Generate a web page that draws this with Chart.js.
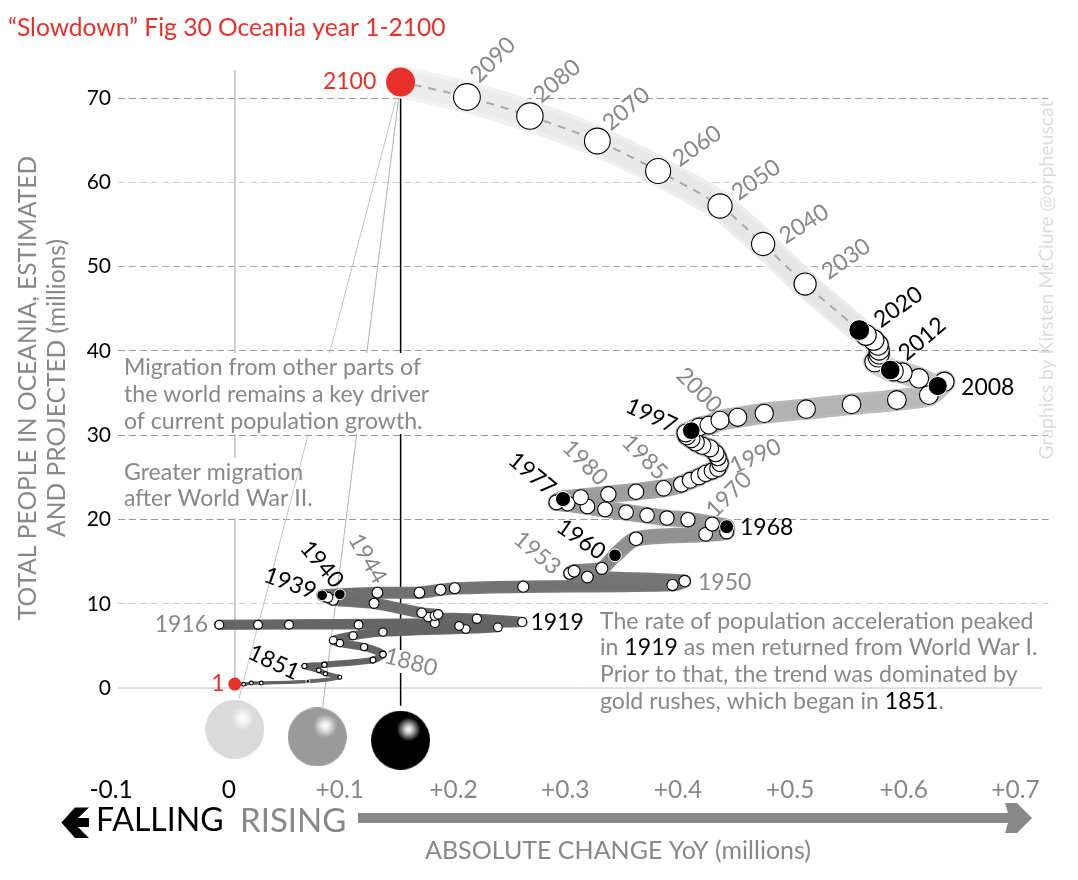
<!DOCTYPE html>
<html>
<head>
<meta charset="utf-8">
<style>
  html, body { margin: 0; padding: 0; background: #fff; }
  canvas { display: block; }
</style>
<script src="https://cdn.jsdelivr.net/npm/chart.js@4/dist/chart.umd.min.js"></script>
</head>
<body>
<canvas id="chart" width="1078" height="880"></canvas>
<script>
// values
var years = [1, 1700, 1750, 1800, 1851, 1855, 1860, 1865, 1870, 1872, 1875, 1880, 1885, 1890, 1895, 1900, 1905,
  1910, 1911, 1912, 1913, 1914, 1915, 1916, 1918, 1919, 1920, 1921, 1923, 1925, 1930, 1935, 1937, 1938, 1939, 1940,
  1942, 1944, 1945, 1946, 1948, 1949, 1950, 1951, 1952, 1953, 1957, 1960, 1964, 1966, 1967, 1968, 1969, 1970,
  1971, 1972, 1973, 1974, 1975, 1976, 1976.5, 1977, 1978, 1979, 1980, 1981, 1982, 1983, 1984, 1985, 1986, 1987,
  1988, 1989, 1990, 1991, 1992, 1993, 1994, 1995, 1996, 1997, 1998, 1999, 2000, 2001, 2002, 2003, 2004, 2005,
  2006, 2007, 2008, 2009, 2010, 2011, 2012, 2013, 2014, 2015, 2016, 2017, 2018, 2019, 2020, 2030, 2040, 2050,
  2060, 2070, 2080, 2090, 2100];

var absoluteChange = [0.000, 0.008, 0.015, 0.024, 0.066, 0.095, 0.082, 0.076, 0.063, 0.081, 0.125, 0.134, 0.117, 0.095, 0.089, 0.107, 0.134,
  0.209, 0.238, 0.203, 0.112, 0.049, 0.021, -0.014, 0.181, 0.260, 0.219, 0.175, 0.181, 0.184, 0.169, 0.126, 0.089, 0.084, 0.079, 0.095,
  0.129, 0.167, 0.186, 0.199, 0.261, 0.396, 0.407, 0.319, 0.303, 0.307, 0.332, 0.344, 0.363, 0.426, 0.445, 0.445, 0.432, 0.410,
  0.391, 0.373, 0.354, 0.335, 0.319, 0.301, 0.291, 0.297, 0.313, 0.338, 0.363, 0.388, 0.404, 0.412, 0.420, 0.426, 0.432, 0.437,
  0.439, 0.437, 0.435, 0.430, 0.423, 0.417, 0.413, 0.409, 0.408, 0.413, 0.420, 0.429, 0.439, 0.455, 0.479, 0.517, 0.558, 0.599,
  0.628, 0.642, 0.636, 0.619, 0.604, 0.596, 0.593, 0.579, 0.582, 0.583, 0.583, 0.582, 0.578, 0.571, 0.565, 0.516, 0.478, 0.439,
  0.383, 0.328, 0.267, 0.210, 0.150];

var people = [0.47, 0.44, 0.59, 0.59, 0.79, 1.27, 1.70, 2.10, 2.61, 2.76, 3.32, 4.00, 4.86, 5.34, 5.66, 6.21, 6.64,
  7.00, 7.20, 7.36, 7.51, 7.51, 7.51, 7.51, 7.71, 7.83, 8.22, 8.42, 8.58, 8.74, 8.93, 10.05, 10.44, 10.76, 11.00, 11.12,
  11.31, 11.31, 11.66, 11.83, 12.02, 12.22, 12.69, 13.17, 13.61, 13.88, 14.20, 15.74, 17.71, 18.24, 18.51, 19.14, 19.46, 19.97,
  20.17, 20.49, 20.85, 21.20, 21.55, 21.90, 22.03, 22.42, 22.63, 22.98, 23.29, 23.69, 24.17, 24.64, 25.07, 25.47, 25.75, 26.07,
  26.66, 27.37, 27.85, 28.44, 28.75, 29.15, 29.54, 29.90, 30.25, 30.53, 30.97, 31.20, 31.76, 32.12, 32.59, 33.10, 33.66, 34.17,
  34.76, 36.34, 35.83, 36.74, 37.41, 37.60, 37.73, 38.71, 39.27, 39.63, 40.10, 40.70, 41.29, 41.88, 42.47, 47.93, 52.68, 57.19,
  61.34, 64.90, 67.86, 70.12, 71.90];

var blackYears = [1851, 1939, 1940, 1960, 1968, 1977, 1997, 2008, 2012, 2020];
var redYears = [1, 2100];

var xTickLabels = ['-0.1', '0', '+0.1', '+0.2', '+0.3', '+0.4', '+0.5', '+0.6', '+0.7'];
// the picture sets its labels slightly wider apart than its scale
var xTickSpots = [-0.112, -0.0054, 0.0949, 0.1978, 0.2990, 0.4010, 0.5025, 0.6052, 0.7064];
var yTickValues = [0, 10, 20, 30, 40, 50, 60, 70];
var gridColors = {0: 'rgba(0,0,0,0)', 10: '#cfcfcf', 20: '#999', 30: '#999', 40: '#999', 50: '#aaa', 60: '#d0d0d0', 70: '#999'};

var RED = '#e8302a';
var GREY = '#888888';
var BLACK = '#000000';
var FONT = 'Lato, "Open Sans", sans-serif';
var BODY_SIZE = 23.1;

// tube shade by year: [year, grey level]
var tubeShades = [[1, 85], [1916, 100], [1950, 115], [1968, 150], [2000, 170], [2008, 190], [2020, 228], [2100, 236]];

var labelSpots = [
  {year: 2090, dx: 26, dy: -37, angle: -45, color: GREY},
  {year: 2080, dx: 27, dy: -35, angle: -40, color: GREY},
  {year: 2070, dx: 29, dy: -32, angle: -40, color: GREY},
  {year: 2060, dx: 39, dy: -25, angle: -35, color: GREY},
  {year: 2050, dx: 36, dy: -26, angle: -35, color: GREY},
  {year: 2040, dx: 41, dy: -20, angle: -32, color: GREY},
  {year: 2030, dx: 41, dy: -25, angle: -35, color: GREY},
  {year: 2020, dx: 39, dy: -23, angle: -35, color: BLACK},
  {year: 2012, dx: 32, dy: -31, angle: -40, color: BLACK},
  {year: 2008, dx: 50, dy: 2, angle: 0, color: BLACK},
  {year: 2000, dx: -21, dy: -30, angle: 45, color: GREY},
  {year: 1997, dx: -40, dy: -15, angle: 25, color: BLACK},
  {year: 1990, dx: 40, dy: 3, angle: -25, color: GREY},
  {year: 1985, dx: -61, dy: -16, angle: 45, color: GREY},
  {year: 1980, dx: -51, dy: -29, angle: 45, color: GREY},
  {year: 1977, dx: -31, dy: -25, angle: 40, color: BLACK},
  {year: 1970, dx: 41, dy: -25, angle: -45, color: GREY},
  {year: 1968, dx: 40, dy: 1, angle: 0, color: BLACK},
  {year: 1960, dx: -34, dy: -16, angle: 35, color: BLACK},
  {year: 1953, dx: -37, dy: -18, angle: 40, color: GREY},
  {year: 1950, dx: 40, dy: 2, angle: 0, color: GREY},
  {year: 1944, dx: -52, dy: -34, angle: 60, color: GREY},
  {year: 1940, dx: -18, dy: -30, angle: 50, color: BLACK},
  {year: 1939, dx: -32, dy: -12, angle: 20, color: BLACK},
  {year: 1919, dx: 35, dy: 1, angle: 0, color: BLACK},
  {year: 1916, dx: -38, dy: 0, angle: 0, color: GREY},
  {year: 1851, dx: -34, dy: -19, angle: 25, color: BLACK},
  {year: 1880, dx: 28, dy: 8, angle: 15, color: GREY},
  {year: 1, dx: -17, dy: 0, angle: 0, color: RED},
  {year: 2100, dx: -51, dy: 0, angle: 0, color: RED}
];

function spot(i) { return {x: absoluteChange[i], y: people[i]}; }

function pick(test) {
  var out = [];
  years.forEach(function(yr, i) { if (test(yr)) out.push(spot(i)); });
  return out;
}

function dotRadius(ctx) {
  return Math.max(1.9, 1.6 * Math.sqrt(ctx.raw.y));
}

function tubeShade(yr) {
  for (var i = 1; i < tubeShades.length; i++) {
    if (yr <= tubeShades[i][0]) {
      var a = tubeShades[i - 1], b = tubeShades[i];
      return a[1] + (b[1] - a[1]) * (yr - a[0]) / (b[0] - a[0]);
    }
  }
  return 236;
}

function tubeColor(ctx, lift) {
  var g = Math.min(250, Math.round(tubeShade(years[ctx.p1DataIndex]) + lift));
  return 'rgb(' + g + ',' + g + ',' + g + ')';
}

function tubeWidth(ctx, gain) {
  var y = people[ctx.p1DataIndex];
  return Math.max(3, (3.4 * Math.sqrt(y) + 0.05 * y) * gain);
}

function makeSphere(base) {
  var c = document.createElement('canvas');
  c.width = 59; c.height = 59;
  var g = c.getContext('2d');
  g.beginPath();
  g.arc(29.5, 29.5, 29.5, 0, Math.PI * 2);
  g.fillStyle = base;
  g.fill();
  var grad = g.createRadialGradient(37.5, 18.5, 0, 37.5, 18.5, 12);
  grad.addColorStop(0, 'rgba(255,255,255,1)');
  grad.addColorStop(0.3, 'rgba(255,255,255,0.8)');
  grad.addColorStop(1, 'rgba(255,255,255,0)');
  g.fillStyle = grad;
  g.fill();
  return c;
}

var sphereX = [0.0, 0.0746, 0.15];
var sphereY = [-4.9, -5.8, -6.2];
var sphereColors = ['#dadada', '#9a9a9a', '#000000'];
var leaderEndX = [0.0036, 0.0795, 0.15];
var leaderEndY = [-1.3, -2.25, -2.1];
var leaderColors = ['#c4c4c4', '#b0b0b0', '#000000'];
var lastSpot = spot(years.indexOf(2100));

var tubePoints = years.map(function(yr, i) { return spot(i); });

var datasets = [
  {data: pick(function(y) { return redYears.indexOf(y) >= 0; }), showLine: false, order: 1,
    pointRadius: function(ctx) { return ctx.raw.y > 10 ? 14.5 : 6.5; },
    pointBackgroundColor: RED, pointBorderWidth: 0, clip: false},
  {data: pick(function(y) { return blackYears.indexOf(y) >= 0; }), showLine: false, order: 2,
    pointRadius: dotRadius, pointBackgroundColor: BLACK, pointBorderColor: '#fff', pointBorderWidth: 1, clip: false},
  {data: pick(function(y) { return blackYears.indexOf(y) < 0 && redYears.indexOf(y) < 0; }), showLine: false, order: 3,
    pointRadius: dotRadius, pointBackgroundColor: '#fff', pointBorderColor: '#000', pointBorderWidth: 1.1, clip: false},
  {data: pick(function(y) { return y >= 2020; }), showLine: true, order: 4, pointRadius: 0,
    borderColor: '#aaaaaa', borderWidth: 2, borderDash: [8, 7], tension: 0.3, clip: false},
  {data: tubePoints, showLine: true, order: 5, pointRadius: 0, tension: 0.25, borderCapStyle: 'round', clip: false,
    segment: {
      borderColor: function(ctx) { return tubeColor(ctx, 0); },
      borderWidth: function(ctx) { return tubeWidth(ctx, 0.75); }
    }},
  {data: tubePoints, showLine: true, order: 6, pointRadius: 0, tension: 0.25, borderCapStyle: 'round', clip: false,
    segment: {
      borderColor: function(ctx) { return tubeColor(ctx, 6); },
      borderWidth: function(ctx) { return tubeWidth(ctx, 1); }
    }}
];

// lines from the 2100 point to the three spheres
leaderEndX.forEach(function(x, i) {
  datasets.push({data: [lastSpot, {x: x, y: leaderEndY[i]}], showLine: true, order: 7, pointRadius: 0,
    borderColor: leaderColors[i], borderWidth: i == 2 ? 1.5 : 1, clip: false});
});

datasets.push({data: [{x: 0, y: 73.3}, {x: 0, y: 0}], showLine: true, order: 8, pointRadius: 0,
  borderColor: '#c4c4c4', borderWidth: 1});
datasets.push({data: [{x: -0.1057, y: 0}, {x: 0.73, y: 0}], showLine: true, order: 8, pointRadius: 0,
  borderColor: '#c4c4c4', borderWidth: 1});

datasets.push({data: sphereX.map(function(x, i) { return {x: x, y: sphereY[i]}; }), showLine: false, order: 9,
  pointRadius: 29.5, pointBorderWidth: 0, clip: false,
  pointStyle: sphereColors.map(makeSphere)});

function drawText(ctx, text, x, y, size, color, angle, align) {
  ctx.save();
  ctx.translate(x, y);
  if (angle) ctx.rotate(angle * Math.PI / 180);
  ctx.font = size + 'px ' + FONT;
  ctx.fillStyle = color;
  ctx.textAlign = align || 'left';
  ctx.textBaseline = 'middle';
  ctx.fillText(text, 0, 0);
  ctx.restore();
}

// one line in several colours
function drawPieces(ctx, pieces, x, y, size) {
  pieces.forEach(function(p) {
    drawText(ctx, p[0], x, y, size, p[1]);
    ctx.font = size + 'px ' + FONT;
    x += ctx.measureText(p[0]).width;
  });
}

function polygon(ctx, pts, color) {
  ctx.beginPath();
  pts.forEach(function(p, i) { if (i) ctx.lineTo(p[0], p[1]); else ctx.moveTo(p[0], p[1]); });
  ctx.closePath();
  ctx.fillStyle = color;
  ctx.fill();
}

var annotations = {
  id: 'annotations',
  afterDatasetsDraw: function(chart) {
    var ctx = chart.ctx, sx = chart.scales.x, sy = chart.scales.y;

    // white boxes behind the notes break the thin lines
    ctx.fillStyle = '#fff';
    ctx.fillRect(122, 353, 303, 81);
    ctx.fillRect(225, 458, 20, 60);
    ctx.fillRect(396, 650, 10, 23);

    drawText(ctx, '\u201cSlowdown\u201d Fig 30 Oceania year 1-2100', 8, 28, 24.6, RED);

    drawText(ctx, 'TOTAL PEOPLE IN OCEANIA, ESTIMATED', 28, 388, 24.6, GREY, -90, 'center');
    drawText(ctx, 'AND PROJECTED (millions)', 57, 388, 24.6, GREY, -90, 'center');

    ['Migration from other parts of', 'the world remains a key driver', 'of current population growth.'].forEach(function(t, i) {
      drawText(ctx, t, 124, 368 + i * 27, BODY_SIZE, GREY);
    });
    ['Greater migration', 'after World War II.'].forEach(function(t, i) {
      drawText(ctx, t, 124, 473 + i * 26, BODY_SIZE, GREY);
    });

    drawText(ctx, 'The rate of population acceleration peaked', 600, 622, BODY_SIZE, GREY);
    drawPieces(ctx, [['in ', GREY], ['1919', BLACK], [' as men returned from World War I.', GREY]], 600, 648, BODY_SIZE);
    drawText(ctx, 'Prior to that, the trend was dominated by', 600, 675, BODY_SIZE, GREY);
    drawPieces(ctx, [['gold rushes, which began in ', GREY], ['1851', BLACK], ['.', GREY]], 600, 702, BODY_SIZE);

    drawText(ctx, 'Graphics by Kirsten McClure @orpheuscat', 1047, 280, 19.4, '#dddddd', -90, 'center');

    labelSpots.forEach(function(l) {
      var i = years.indexOf(l.year);
      var px = sx.getPixelForValue(absoluteChange[i]) + l.dx;
      var py = sy.getPixelForValue(people[i]) + l.dy;
      drawText(ctx, String(l.year), px, py, 23, l.color, l.angle, 'center');
    });

    // falling / rising key under the axis
    polygon(ctx, [[61.4, 822.5], [75, 807.5], [89, 807.5], [78, 818], [89, 818], [89, 827], [78, 827], [89, 838], [75, 838]], BLACK);
    drawText(ctx, 'FALLING', 96, 821, 32, BLACK);
    drawText(ctx, 'RISING', 240, 821, 33, GREY);
    polygon(ctx, [[358, 813], [1008, 813], [1005, 803], [1017, 803], [1032, 818], [1017, 833], [1005, 833], [1008, 823], [358, 823]], GREY);
    drawText(ctx, 'ABSOLUTE CHANGE YoY (millions)', 618, 851, 25, GREY, 0, 'center');
  }
};

new Chart(document.getElementById('chart'), {
  type: 'scatter',
  data: {datasets: datasets},
  plugins: [annotations],
  options: {
    responsive: false,
    animation: false,
    events: [],
    layout: {padding: {left: 0, top: 60, right: 28, bottom: 0}},
    plugins: {legend: {display: false}, tooltip: {enabled: false}, title: {display: false}},
    scales: {
      x: {
        type: 'linear',
        min: -0.1057,
        max: 0.7362,
        afterFit: function(scale) { scale.height = 114; },
        afterBuildTicks: function(scale) {
          scale.ticks = xTickSpots.map(function(v) { return {value: v}; });
        },
        border: {display: false},
        grid: {display: false},
        ticks: {
          autoSkip: false,
          maxRotation: 0,
          padding: 1,
          font: {family: FONT, size: 24.5},
          color: function(ctx) { return ctx.index < 2 ? BLACK : GREY; },
          callback: function(value, index) { return xTickLabels[index]; }
        }
      },
      y: {
        type: 'linear',
        min: -9.25,
        max: 74.51,
        afterFit: function(scale) { scale.width = 118; },
        afterBuildTicks: function(scale) {
          scale.ticks = yTickValues.map(function(v) { return {value: v}; });
        },
        border: {display: false, dash: [7, 4]},
        grid: {
          drawTicks: false,
          color: function(ctx) { return gridColors[ctx.tick.value]; },
          lineWidth: 1
        },
        ticks: {
          padding: 7,
          font: {family: FONT, size: 21},
          color: BLACK,
          callback: function(value) { return String(value); }
        }
      }
    }
  }
});
</script>
</body>
</html>
